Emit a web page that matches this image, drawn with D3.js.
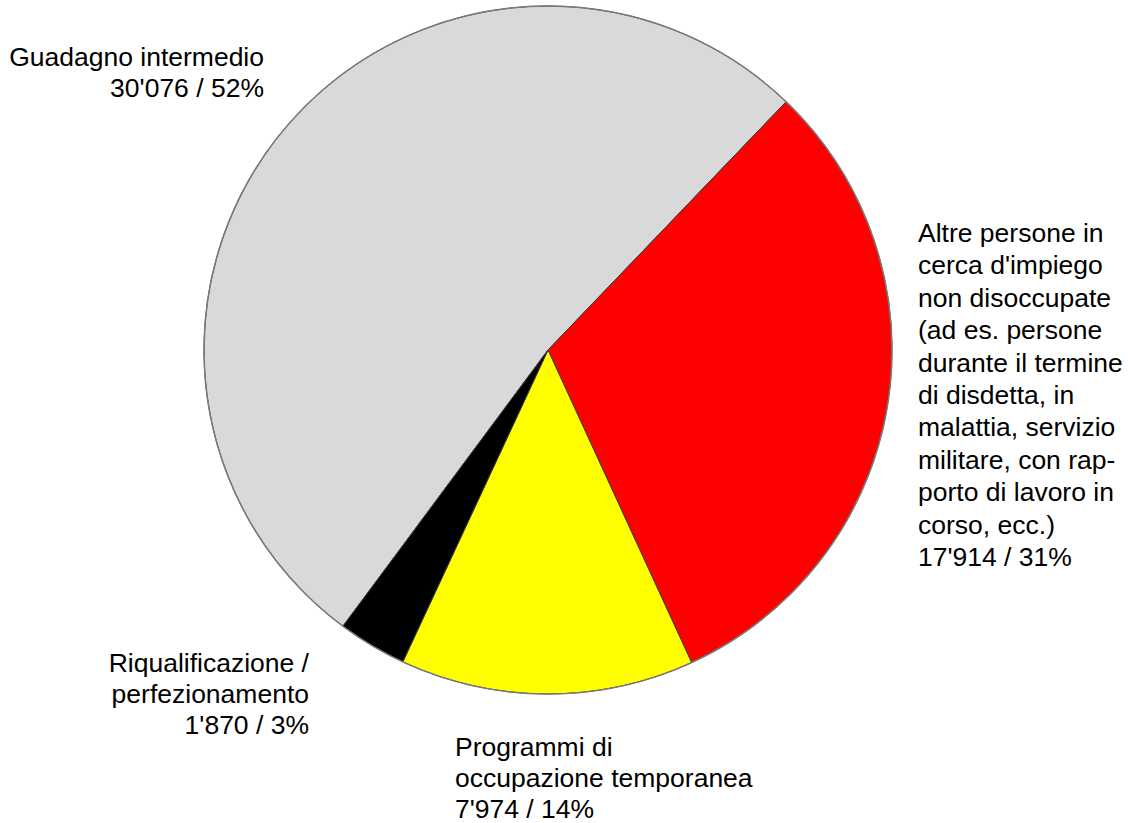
<!DOCTYPE html>
<html>
<head>
<meta charset="utf-8">
<script src="https://cdn.jsdelivr.net/npm/d3@7"></script>
<style>
  body { margin: 0; background: #fff; }
  text { font-family: "Liberation Sans", Arial, sans-serif; fill: #000; }
</style>
</head>
<body>
<div id="chart"></div>
<script>
// categories, clockwise starting from the grey slice
var categories = ['Guadagno intermedio', 'Altre persone', 'Programmi di occupazione temporanea', 'Riqualificazione / perfezionamento']
var values = [30076, 17914, 7974, 1870]
var percents = [52, 31, 14, 3]
var labelLines = [
  ['Guadagno intermedio'],
  ['Altre persone in', "cerca d'impiego", 'non disoccupate', '(ad es. persone', 'durante il termine',
   'di disdetta, in', 'malattia, servizio', 'militare, con rap-', 'porto di lavoro in', 'corso, ecc.)'],
  ['Programmi di', 'occupazione temporanea'],
  ['Riqualificazione /', 'perfezionamento']
]
var colors = ['#d9d9d9', '#ff0000', '#ffff00', '#000000']

var width = 1128, height = 823
var cx = 548, cy = 350, radius = 344

// label placement: first baseline, alignment and line step
var labelPos = [
  {x: 264, y: 66, anchor: 'end', step: 30.5},
  {x: 918, y: 242, anchor: 'start', step: 32.4},
  {x: 455, y: 756, anchor: 'start', step: 31},
  {x: 309, y: 672, anchor: 'end', step: 31}
]

var fmt = d3.formatLocale({decimal: '.', thousands: "'", grouping: [3], currency: ['', '']}).format(',')

var svg = d3.select('#chart').append('svg')
  .attr('width', width)
  .attr('height', height)

var start = -143.4 * Math.PI / 180
var pie = d3.pie().sort(null).value(d => d)
  .startAngle(start).endAngle(start + 2 * Math.PI)
var arc = d3.arc().innerRadius(0).outerRadius(radius)

var g = svg.append('g').attr('transform', `translate(${[cx, cy]})`)

g.selectAll('.slice').data(pie(values))
  .enter().append('path')
    .attr('class', 'slice')
    .attr('d', arc)
    .attr('fill', (d, i) => colors[i])
    .attr('stroke', '#3a3a3a')
    .attr('stroke-width', 1)
    .attr('stroke-linejoin', 'round')

g.append('circle')
  .attr('r', radius)
  .attr('fill', 'none')
  .attr('stroke', '#7a7a7a')
  .attr('stroke-width', 1.5)

var labels = svg.selectAll('.label').data(categories)
  .enter().append('text')
    .attr('class', 'label')
    .attr('font-size', 26.5)
    .attr('text-anchor', (d, i) => labelPos[i].anchor)

labels.each(function(d, i){
  var t = d3.select(this)
  var lines = labelLines[i].concat([fmt(values[i]) + ' / ' + percents[i] + '%'])
  lines.forEach((l, j) => {
    t.append('tspan')
      .attr('x', labelPos[i].x)
      .attr('y', labelPos[i].y + j * labelPos[i].step)
      .text(l)
  })
})
</script>
</body>
</html>
